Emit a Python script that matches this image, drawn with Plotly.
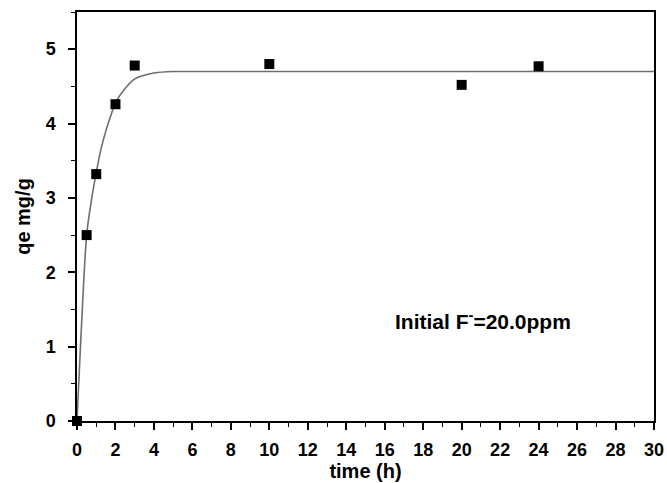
import plotly.graph_objects as go

# measured data
time_h = [0, 0.5, 1, 2, 3, 10, 20, 24]
qe = [0, 2.50, 3.32, 4.26, 4.78, 4.80, 4.52, 4.77]

# fitted curve
fit_t = [0, 0.5, 0.75, 1, 1.25, 1.5, 1.75, 2, 2.5, 3, 3.5, 4, 5, 6, 10, 20, 30]
fit_q = [0, 2.50, 2.97, 3.34, 3.66, 3.90, 4.10, 4.28, 4.47, 4.60, 4.65, 4.68, 4.70, 4.70, 4.70, 4.70, 4.70]

x_ticks = list(range(0, 31, 2))
y_ticks = [0, 1, 2, 3, 4, 5]

font_family = "Arial, 'Liberation Sans', sans-serif"

fig = go.Figure()
fig.add_trace(go.Scatter(
    x=fit_t, y=fit_q, mode="lines",
    line=dict(color="#6e6e6e", width=1.6, shape="spline", smoothing=0.6),
    showlegend=False, hoverinfo="skip",
))
fig.add_trace(go.Scatter(
    x=time_h, y=qe, mode="markers",
    marker=dict(symbol="square", size=10, color="black"),
    cliponaxis=False, showlegend=False,
))

fig.add_annotation(
    x=21.1, y=1.36, xref="x", yref="y",
    text="<b>Initial F<sup>-</sup>=20.0ppm</b>",
    showarrow=False, font=dict(family=font_family, size=21, color="black"),
)

axis_common = dict(
    showline=True, linecolor="black", linewidth=1.5, mirror=True,
    ticks="outside", ticklen=7, tickwidth=1.5, tickcolor="black",
    showgrid=False, zeroline=False, automargin=False,
    tickfont=dict(family=font_family, size=18, color="black", weight="bold"),
)

fig.update_xaxes(
    range=[0, 30], tickvals=x_ticks, ticktext=[str(v) for v in x_ticks],
    minor=dict(ticks="outside", ticklen=4, tickwidth=1.2, tickcolor="black", dtick=1, showgrid=False),
    title=dict(text="<b>time (h)</b>", font=dict(family=font_family, size=20, color="black"), standoff=4),
    ticklabelstandoff=5,
    **axis_common,
)
fig.update_yaxes(
    range=[0, 5.5], tickvals=y_ticks, ticktext=[str(v) for v in y_ticks],
    minor=dict(ticks="outside", ticklen=4, tickwidth=1.2, tickcolor="black", dtick=0.5, showgrid=False),
    title=dict(text="<b>qe mg/g</b>", font=dict(family=font_family, size=20, color="black"), standoff=10),
    ticklabelstandoff=9,
    **axis_common,
)

fig.update_layout(
    width=667, height=483,
    margin=dict(l=77, r=13, t=12, b=62),
    plot_bgcolor="white", paper_bgcolor="white",
    font=dict(family=font_family, color="black"),
)

fig.write_html("out.html")
